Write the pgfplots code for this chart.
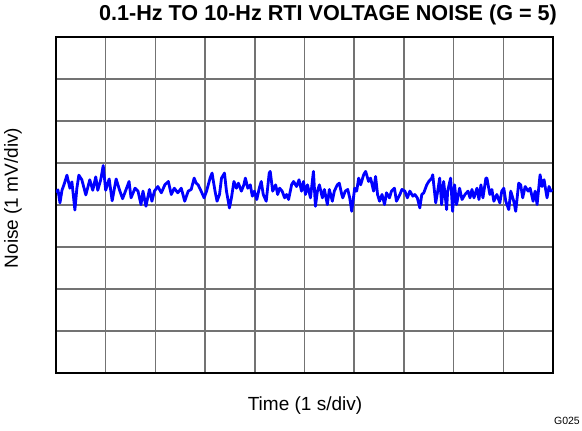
\documentclass[border=0pt]{standalone}
\usepackage{pgfplots}
\pgfplotsset{compat=1.18}
\usepackage{fontspec}
\setmainfont{Liberation Sans}
\begin{document}
\begin{tikzpicture}
\useasboundingbox (-56pt,-58pt) rectangle (526pt,373pt);
\begin{axis}[
  at={(0pt,0pt)}, anchor=south west,
  width=497pt, height=336pt, scale only axis,
  xmin=0, xmax=10, ymin=-4, ymax=4,
  xtick={0,1,...,10}, ytick={-4,-3,...,4},
  xticklabels={}, yticklabels={},
  major tick length=0pt,
  grid=major,
  major grid style={black!55, line width=1.5pt},
  axis line style={black, line width=2.4pt},
  clip=true,
]
\addplot[blue, line width=2.8pt, line join=round] coordinates {
(0.00,0.30)(0.04,0.36)(0.08,0.05)(0.12,0.35)(0.16,0.48)(0.22,0.71)(0.28,0.40)(0.32,0.55)(0.38,-0.12)(0.42,0.40)(0.46,0.71)(0.52,0.60)(0.60,0.24)(0.68,0.60)(0.74,0.35)(0.80,0.67)(0.84,0.35)(0.90,0.60)(0.95,0.94)(1.00,0.35)(1.07,0.62)(1.13,0.10)(1.21,0.62)(1.28,0.35)(1.34,0.15)(1.42,0.40)
(1.47,0.56)(1.51,0.17)(1.59,0.40)(1.65,0.33)(1.71,0.01)(1.75,0.33)(1.81,-0.03)(1.88,0.37)(1.93,0.09)(1.98,0.33)(2.05,0.44)(2.12,0.29)(2.19,0.48)(2.26,0.56)(2.32,0.25)(2.38,0.40)(2.45,0.29)(2.52,0.40)(2.59,0.09)(2.66,0.33)(2.72,0.37)(2.78,0.64)(2.82,0.52)
(2.86,0.48)(2.92,0.33)(2.98,0.17)(3.03,0.33)(3.10,0.64)(3.14,0.76)(3.20,0.33)(3.24,0.09)(3.29,0.25)(3.33,0.64)(3.39,0.76)(3.43,0.33)(3.49,-0.07)(3.53,0.17)(3.58,0.56)(3.63,0.40)(3.67,0.52)(3.73,0.33)(3.78,0.48)(3.81,0.64)(3.86,0.40)(3.91,0.48)(3.95,0.21)(3.99,0.33)(4.04,0.13)(4.09,0.40)(4.13,0.56)(4.17,0.25)(4.23,0.09)(4.29,0.76)
(4.31,0.80)(4.36,0.33)(4.42,0.48)(4.46,0.25)(4.50,0.40)(4.55,0.33)(4.60,0.17)(4.64,0.25)(4.68,0.13)(4.74,0.48)(4.78,0.56)(4.84,0.44)(4.89,0.60)(4.94,0.33)(4.98,0.56)(5.02,0.25)(5.06,0.48)(5.12,0.17)(5.18,0.80)(5.22,-0.03)(5.26,0.33)(5.30,0.48)(5.36,0.17)(5.40,0.37)(5.46,0.01)(5.50,0.37)(5.56,0.09)(5.60,0.33)(5.66,0.48)(5.70,0.52)(5.75,0.25)
(5.77,0.17)(5.82,0.33)(5.87,0.37)(5.91,0.17)(5.95,-0.15)(6.01,0.40)(6.05,0.33)(6.09,0.64)(6.13,0.48)(6.19,0.72)(6.23,0.80)(6.29,0.56)(6.33,0.64)(6.39,0.33)(6.43,0.68)(6.47,0.25)(6.51,0.09)(6.56,0.25)(6.61,0.01)(6.65,0.29)(6.71,0.17)(6.75,0.33)(6.81,0.40)(6.85,0.09)(6.92,0.25)(6.96,0.37)(7.02,0.33)(7.07,0.17)(7.12,0.33)(7.18,0.21)
(7.22,0.25)(7.27,0.17)(7.32,-0.07)(7.36,0.25)(7.40,0.29)(7.46,0.48)(7.50,0.56)(7.56,0.64)(7.58,0.72)(7.64,0.05)(7.68,0.33)(7.72,0.64)(7.76,0.01)(7.80,0.56)(7.86,-0.11)(7.88,0.33)(7.94,0.64)(7.98,-0.15)(8.02,0.48)(8.06,0.01)(8.12,0.40)(8.17,0.13)(8.23,0.25)(8.29,0.33)(8.33,0.17)(8.37,0.37)(8.41,0.17)(8.47,0.40)(8.51,0.13)(8.55,0.48)(8.59,0.17)(8.65,0.64)
(8.67,0.64)(8.73,0.25)(8.77,0.37)(8.81,0.09)(8.87,0.25)(8.93,0.05)(8.97,0.33)(9.01,0.40)(9.05,0.09)(9.11,-0.11)(9.15,0.33)(9.21,0.09)(9.25,-0.15)(9.31,0.52)(9.35,0.48)(9.39,0.17)(9.44,0.44)(9.50,0.33)(9.54,0.40)(9.60,0.09)(9.64,0.33)(9.68,0.01)(9.74,0.72)(9.78,0.44)(9.82,0.60)(9.88,0.17)(9.92,0.44)(9.96,0.33)(9.98,0.37)
};
\end{axis}
\node[anchor=base, font=\fontsize{21.6}{25}\selectfont\bfseries] at (272pt,352pt) {0.1-Hz TO 10-Hz RTI VOLTAGE NOISE (G = 5)};
\node[anchor=base, font=\fontsize{19}{22}\selectfont] at (249pt,-38pt) {Time (1 s/div)};
\node[rotate=90, anchor=center, font=\fontsize{19}{22}\selectfont] at (-43pt,175pt) {Noise (1 mV/div)};
\node[anchor=base east, font=\fontsize{10.5}{12}\selectfont, inner sep=0pt] at (524pt,-52pt) {G025};
\end{tikzpicture}
\end{document}
